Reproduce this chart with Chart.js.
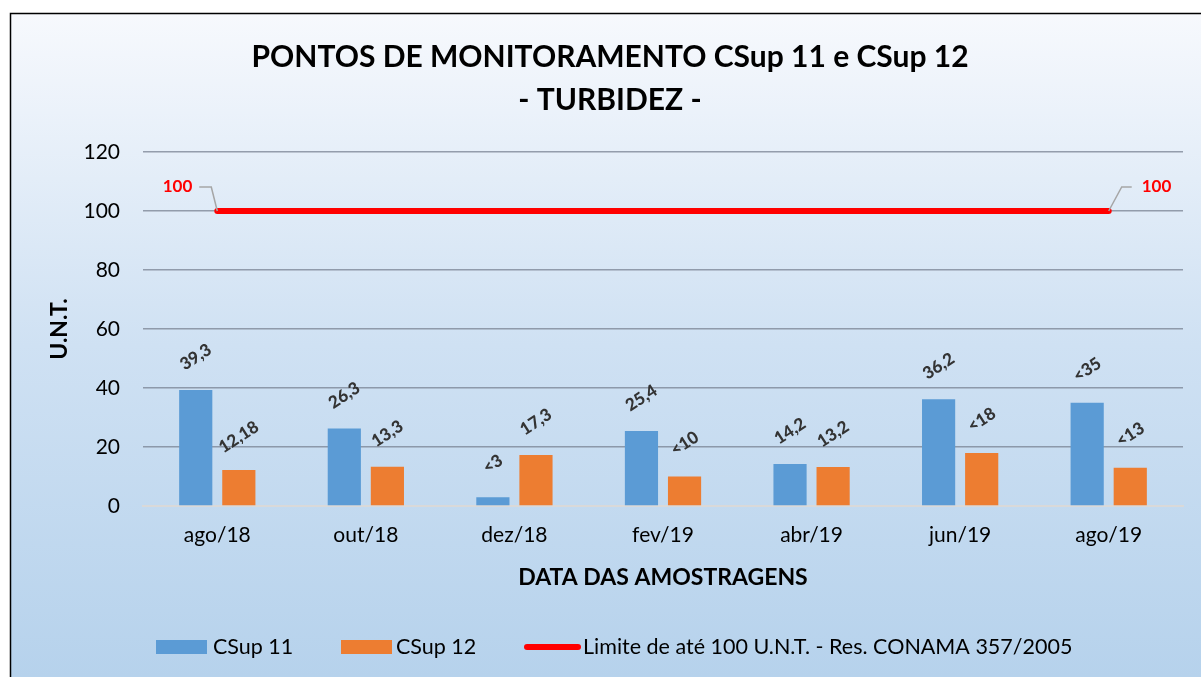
<!DOCTYPE html>
<html>
<head>
<meta charset="utf-8">
<script src="https://cdn.jsdelivr.net/npm/chart.js@4.4.1/dist/chart.umd.min.js"></script>
<style>
  html, body { margin: 0; padding: 0; background: #fff; }
  #myChart { display: block; }
</style>
</head>
<body>
<canvas id="myChart" width="1201" height="677"></canvas>
<script>
const categories = ['ago/18', 'out/18', 'dez/18', 'fev/19', 'abr/19', 'jun/19', 'ago/19'];
const csup11 = [39.3, 26.3, 3, 25.4, 14.2, 36.2, 35];
const csup12 = [12.18, 13.3, 17.3, 10, 13.2, 18, 13];
const csup11Labels = ['39,3', '26,3', '<3', '25,4', '14,2', '36,2', '<35'];
const csup12Labels = ['12,18', '13,3', '17,3', '<10', '13,2', '<18', '<13'];
const limite = [100, 100, 100, 100, 100, 100, 100];
const titleLines = ['PONTOS DE MONITORAMENTO CSup 11 e CSup 12', '- TURBIDEZ -'];
const legendNames = ['CSup 11', 'CSup 12', 'Limite de até 100 U.N.T. - Res. CONAMA 357/2005'];

const BLUE = '#5b9bd5';
const ORANGE = '#ed7d31';
const RED = '#ff0000';

Chart.defaults.font.family = 'Lato';

const ctx = document.getElementById('myChart');

// background gradient, frame and title
const backdrop = {
  id: 'backdrop',
  beforeDraw(chart) {
    const c = chart.ctx;
    c.save();
    c.fillStyle = '#ffffff';
    c.fillRect(0, 0, chart.width, chart.height);
    const g = c.createLinearGradient(0, 13, 0, chart.height);
    g.addColorStop(0, '#f7f9fd');
    g.addColorStop(0.5, '#cfe1f3');
    g.addColorStop(1, '#b6d2ec');
    c.fillStyle = g;
    c.fillRect(10, 13, chart.width, chart.height);
    c.strokeStyle = '#000';
    c.lineWidth = 1.5;
    c.strokeRect(10.5, 13.5, chart.width + 10, chart.height + 10);

    c.fillStyle = '#000';
    c.font = 'bold 30px Lato';
    c.textAlign = 'center';
    c.textBaseline = 'middle';
    c.fillText(titleLines[0], 610, 57);
    c.fillText(titleLines[1], 610, 100);
    c.restore();
  }
};

// rotated value labels, line labels with leader lines, legend
const labels = {
  id: 'labels',
  afterDatasetsDraw(chart) {
    const c = chart.ctx;
    c.save();
    c.font = '900 17px Lato';
    c.fillStyle = '#333333';
    c.textAlign = 'center';
    c.textBaseline = 'middle';
    [[0, csup11Labels], [1, csup12Labels]].forEach(([idx, txt]) => {
      const meta = chart.getDatasetMeta(idx);
      meta.data.forEach((bar, i) => {
        c.save();
        c.translate(bar.x, bar.y - 33);
        c.rotate(-33 * Math.PI / 180);
        c.fillText(txt[i], 0, 0);
        c.restore();
      });
    });

    // limit line labels (first and last point)
    const lm = chart.getDatasetMeta(2).data;
    const p0 = lm[0], p1 = lm[lm.length - 1];
    c.strokeStyle = '#a6a6a6';
    c.lineWidth = 1.5;
    c.beginPath();
    c.moveTo(p0.x, p0.y);
    c.lineTo(p0.x - 6, p0.y - 24);
    c.lineTo(p0.x - 18, p0.y - 24);
    c.moveTo(p1.x, p1.y);
    c.lineTo(p1.x + 13, p1.y - 24);
    c.lineTo(p1.x + 23, p1.y - 24);
    c.stroke();
    c.font = 'bold 17px Lato';
    c.fillStyle = RED;
    c.textAlign = 'right';
    c.fillText(String(limite[0]).replace('.', ','), p0.x - 25, p0.y - 24);
    c.textAlign = 'left';
    c.fillText(String(limite[limite.length - 1]).replace('.', ','), p1.x + 33, p1.y - 24);
    c.restore();
  },
  afterDraw(chart) {
    const c = chart.ctx;
    c.save();
    c.font = '21.5px Lato';
    c.textAlign = 'left';
    c.textBaseline = 'middle';
    const y = 647;
    c.fillStyle = BLUE;
    c.fillRect(156, y - 7, 51, 14);
    c.fillStyle = ORANGE;
    c.fillRect(341, y - 7, 51, 14);
    c.strokeStyle = RED;
    c.lineWidth = 6;
    c.lineCap = 'round';
    c.beginPath();
    c.moveTo(527, y);
    c.lineTo(578, y);
    c.stroke();
    c.fillStyle = '#000';
    c.fillText(legendNames[0], 213, y);
    c.fillText(legendNames[1], 396, y);
    c.fillText(legendNames[2], 583, y);
    c.restore();
  }
};

new Chart(ctx, {
  type: 'bar',
  data: {
    labels: categories,
    datasets: [
      {
        label: legendNames[0],
        data: csup11,
        backgroundColor: BLUE,
        barPercentage: 0.77,
        categoryPercentage: 0.58,
        order: 2
      },
      {
        label: legendNames[1],
        data: csup12,
        backgroundColor: ORANGE,
        barPercentage: 0.77,
        categoryPercentage: 0.58,
        order: 2
      },
      {
        type: 'line',
        label: legendNames[2],
        data: limite,
        borderColor: RED,
        borderWidth: 6,
        borderCapStyle: 'round',
        pointRadius: 0,
        fill: false,
        order: 1
      }
    ]
  },
  options: {
    responsive: false,
    animation: false,
    layout: { padding: { top: 152, left: 42, right: 18, bottom: 82 } },
    plugins: {
      legend: { display: false },
      title: { display: false },
      tooltip: { enabled: false }
    },
    scales: {
      x: {
        afterFit(scale) { scale.height = 89; },
        grid: { display: false, drawTicks: false },
        border: { display: true, color: '#d9d9d9', width: 2 },
        ticks: { color: '#000', font: { size: 21 }, padding: 17 },
        title: {
          display: true,
          text: 'DATA DAS AMOSTRAGENS',
          color: '#000',
          font: { size: 23, weight: 'bold' }
        }
      },
      y: {
        min: 0,
        max: 120,
        afterFit(scale) { scale.width = 101; },
        grid: { color: 'rgba(120,130,145,0.75)', lineWidth: 1.5, drawTicks: false },
        border: { display: false },
        ticks: { stepSize: 20, color: '#000', font: { size: 21 }, padding: 23 },
        title: {
          display: true,
          text: 'U.N.T.',
          color: '#000',
          font: { size: 23, weight: 'bold' }
        }
      }
    }
  },
  plugins: [backdrop, labels]
});
</script>
</body>
</html>
